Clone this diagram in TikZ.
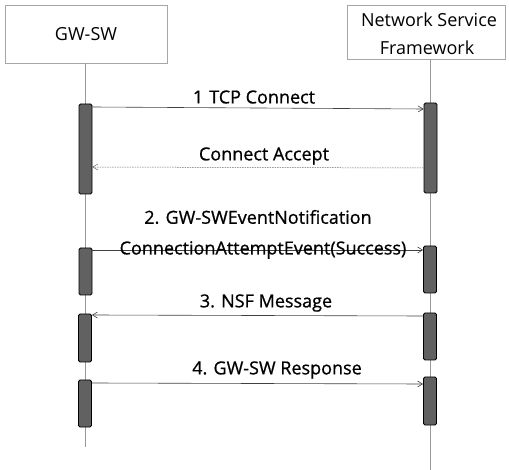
\documentclass[tikz,border=0pt]{standalone}
\usepackage{fontspec}
\setmainfont{Open Sans}
\newfontfamily\lblfont[FakeBold=0.8]{Open Sans}
\usetikzlibrary{arrows.meta}
\begin{document}
\begin{tikzpicture}[x=1pt,y=-1pt,
  actor/.style={draw=gray!70,line width=0.6pt,inner sep=0pt},
  bar/.style={draw=black,fill=black!62,rounded corners=1.5pt,line width=0.8pt,minimum width=13pt,inner sep=0pt},
  life/.style={draw=gray!80,line width=0.6pt},
  msg/.style={draw=black!75,line width=0.6pt,-{Straight Barb[length=5pt,width=6pt]}},
  reply/.style={draw=black!60,line width=0.5pt,dash pattern=on 1.5pt off 1pt,-{Straight Barb[length=5pt,width=6pt]}},
  lbl/.style={font=\lblfont\fontsize{18}{20}\selectfont,inner sep=0pt},
  hdr/.style={font=\fontsize{18}{20}\selectfont,inner sep=0pt}]
\useasboundingbox (0,0) rectangle (509,470);
% actors
\node[actor,minimum width=162pt,minimum height=58pt] (gw) at (86,34) {};
\node[hdr] at (gw.center) {GW-SW};
\node[actor,minimum width=158pt,minimum height=54pt] (nsf) at (426,32) {};
\node[hdr] at (429,20) {Network Service};
\node[hdr] at (427,48) {Framework};
% lifelines
\coordinate (gwend) at (85,447);
\coordinate (nsfend) at (430,470);
\draw[life] (gw.south -| gwend) -- (gwend);
\draw[life] (nsf.south -| nsfend) -- (nsfend);
% activation bars
\node[bar,minimum height=90pt] (l1) at (85.5,149) {};
\node[bar,minimum height=90pt] (r1) at (430.5,148) {};
\node[bar,minimum height=47pt] (l2) at (85.5,271.5) {};
\node[bar,minimum height=47pt] (r2) at (430,269.5) {};
\node[bar,minimum height=48pt] (l3) at (85,338) {};
\node[bar,minimum height=47pt] (r3) at (430,336.5) {};
\node[bar,minimum height=47pt] (l4) at (85,403.5) {};
\node[bar,minimum height=48pt] (r4) at (430,401) {};
% messages
\draw[msg] (l1.east |- 0,107) -- (r1.west |- 0,109);
\node[lbl] at (254,97) {1\,\,TCP Connect};
\draw[reply] (r1.west |- 0,168) -- (l1.east |- 0,167);
\node[lbl] at (264,156) {Connect Accept};
\draw[msg] (l2.east |- 0,250) -- (r2.west |- 0,250);
\node[lbl] at (258,217) {2. GW-SWEventNotification};
\node[lbl] at (263,250) {ConnectionAttemptEvent(Success)};
\draw[msg] (r3.west |- 0,316) -- (l3.east |- 0,315);
\node[lbl] at (266,303) {3. NSF Message};
\draw[msg] (l4.east |- 0,383) -- (r4.west |- 0,384);
\node[lbl] at (277,370) {4. GW-SW Response};
\end{tikzpicture}
\end{document}
